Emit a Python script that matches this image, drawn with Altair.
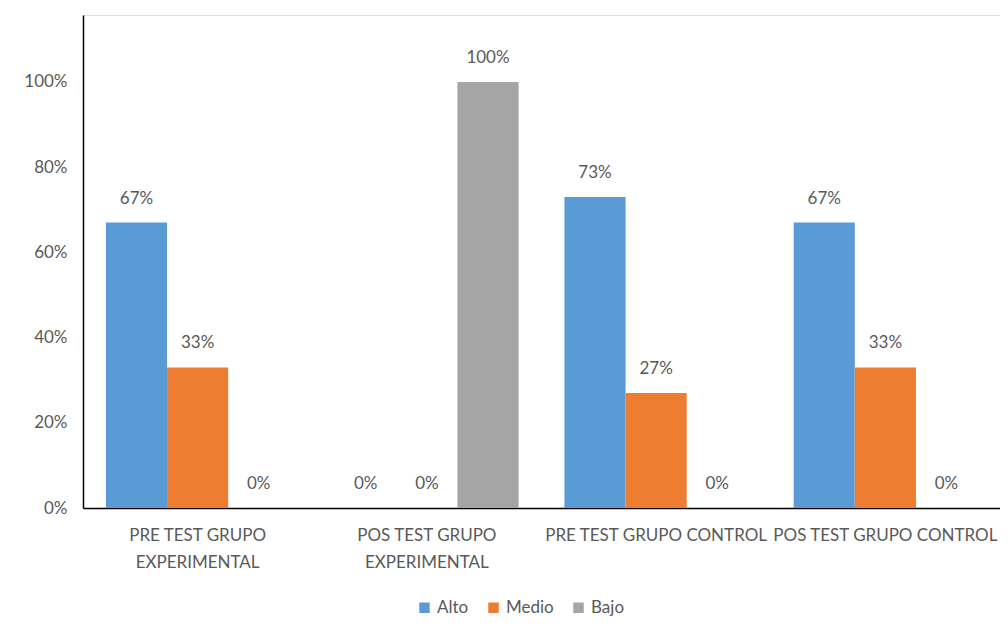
import altair as alt
import pandas as pd

categories = ["PRE TEST GRUPO EXPERIMENTAL", "POS TEST GRUPO EXPERIMENTAL",
              "PRE TEST GRUPO CONTROL", "POS TEST GRUPO CONTROL"]
levels = ["Alto", "Medio", "Bajo"]
alto = [0.67, 0.00, 0.73, 0.67]
medio = [0.33, 0.00, 0.27, 0.33]
bajo = [0.00, 1.00, 0.00, 0.00]
colors = ["#5B9BD5", "#ED7D31", "#A5A5A5"]

rows = []
for i, c in enumerate(categories):
    for lvl, vals in zip(levels, [alto, medio, bajo]):
        rows.append({"grupo": c, "nivel": lvl, "valor": vals[i]})
df = pd.DataFrame(rows)

FONT = "Lato"
GRAY = "#595959"

label_expr = ("datum.value == 'PRE TEST GRUPO EXPERIMENTAL' ? ['PRE TEST GRUPO', 'EXPERIMENTAL'] : "
              "datum.value == 'POS TEST GRUPO EXPERIMENTAL' ? ['POS TEST GRUPO', 'EXPERIMENTAL'] : datum.value")

x = alt.X("grupo:N", sort=categories, title=None,
          scale=alt.Scale(paddingInner=0.2, paddingOuter=0.1),
          axis=alt.Axis(labelAngle=0, labelExpr=label_expr, ticks=False,
                        domainColor="#000000", domainWidth=1.5,
                        labelFont=FONT, labelFontSize=17, labelColor=GRAY,
                        labelPadding=19, labelLineHeight=27, labelLimit=400))
xo = alt.XOffset("nivel:N", sort=levels)
y = alt.Y("valor:Q", title=None,
          scale=alt.Scale(domain=[0, 1.157], nice=False),
          axis=alt.Axis(values=[0, 0.2, 0.4, 0.6, 0.8, 1.0], format=".0%", grid=False,
                        ticks=False, domainColor="#000000", domainWidth=1.5,
                        labelFont=FONT, labelFontSize=17, labelColor=GRAY,
                        labelPadding=16))
color = alt.Color("nivel:N", sort=levels,
                  scale=alt.Scale(domain=levels, range=colors),
                  legend=alt.Legend(title=None, orient="none", direction="horizontal",
                                    legendX=333, legendY=584, symbolType="square",
                                    symbolSize=110, symbolStrokeWidth=0,
                                    labelFont=FONT, labelFontSize=17, labelColor=GRAY,
                                    columnPadding=16, labelOffset=4))

bars = alt.Chart(df).mark_bar().encode(x=x, xOffset=xo, y=y, color=color)
text = alt.Chart(df).mark_text(dy=-15, baseline="bottom", font=FONT, fontSize=17,
                               color=GRAY).encode(
    x=x, xOffset=xo, y=y, text=alt.Text("valor:Q", format=".0%"))

chart = (bars + text).properties(
    width=917, height=493,
    autosize=alt.AutoSizeParams(type="none"),
    padding={"left": 75, "top": 7, "right": 0, "bottom": 110},
).configure_view(stroke=None).configure(background="#ffffff")

chart.save("out.html", embed_options={"renderer": "svg", "actions": False})
